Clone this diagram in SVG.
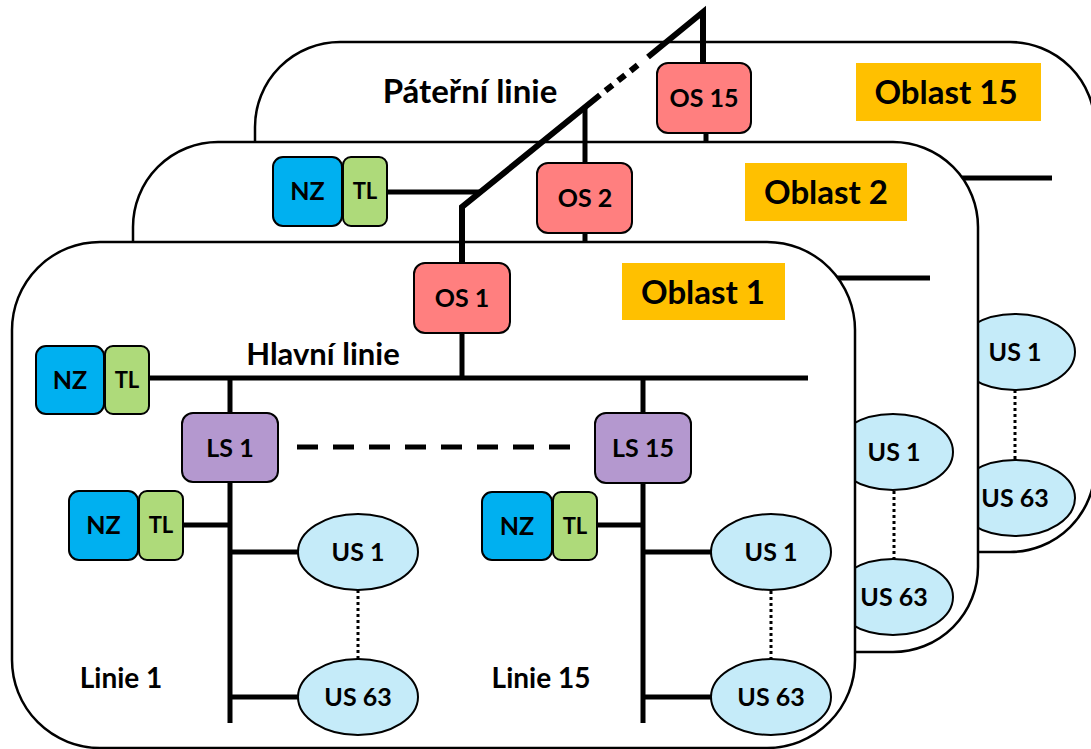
<svg xmlns="http://www.w3.org/2000/svg" width="1091" height="749" viewBox="0 0 1091 749">
<style>
.panel{fill:#fff;stroke:#000;stroke-width:2.5}
.bus{stroke:#000;stroke-width:5;fill:none}
.bb{stroke:#000;stroke-width:6;fill:none;stroke-linejoin:miter}
.dot{stroke:#000;stroke-width:3;stroke-dasharray:3 3;fill:none}
.dash{stroke:#000;stroke-width:5;stroke-dasharray:21 15;fill:none}
.box{stroke:#000;stroke-width:2}
.os{fill:#FF7F7F}
.ls{fill:#B498CF}
.nz{fill:#00B0F0}
.tl{fill:#AEDA7A}
.us{fill:#C5EBF9;stroke:#000;stroke-width:2}
.lab{fill:#FFC000}
text{font-family:Lato,"Liberation Sans",sans-serif;font-weight:bold;fill:#000;text-anchor:middle}
.t25{font-size:25px}
.t22{font-size:22px}
.t28{font-size:28px}
.t31{font-size:31px}
.t33{font-size:33px}
</style>

<!-- Back panel: Oblast 15 -->
<rect id="panel-oblast15" class="panel" x="255" y="42" width="840" height="510" rx="85"/>
<g id="conn-back">
<line class="bus" x1="706" y1="133" x2="706" y2="178"/>
<line class="bus" x1="706" y1="178" x2="1052" y2="178"/>
<line class="bus" x1="960" y1="178" x2="960" y2="500"/>
<line class="dot" x1="1015" y1="390" x2="1015" y2="460"/>
</g>
<g id="back-us1"><ellipse class="us" cx="1015" cy="352" rx="60" ry="38"/><text class="t25" x="1015" y="361">US 1</text></g>
<g id="back-us63"><ellipse class="us" cx="1015" cy="498" rx="60" ry="38"/><text class="t25" x="1015" y="507">US 63</text></g>
<g id="oblast15"><rect class="lab" x="856" y="63" width="185" height="58"/><text class="t33" x="946" y="104">Oblast 15</text></g>

<!-- Middle panel: Oblast 2 -->
<rect id="panel-oblast2" class="panel" x="133" y="142" width="845" height="510" rx="85"/>
<g id="conn-middle">
<line class="bus" x1="585" y1="233" x2="585" y2="278"/>
<line class="bus" x1="585" y1="278" x2="930" y2="278"/>
<line class="bus" x1="387" y1="192" x2="481" y2="192"/>
<line class="dot" x1="894" y1="491" x2="894" y2="559"/>
</g>
<g id="mid-us1"><ellipse class="us" cx="893" cy="452" rx="60" ry="38"/><text class="t25" x="894" y="461">US 1</text></g>
<g id="mid-us63"><ellipse class="us" cx="893" cy="597" rx="60" ry="38"/><text class="t25" x="894" y="606">US 63</text></g>
<g id="oblast2"><rect class="lab" x="745" y="163" width="162" height="58"/><text class="t33" x="826" y="204">Oblast 2</text></g>
<g id="mid-nz"><rect class="box nz" x="273" y="157" width="69" height="69" rx="10"/><text class="t25" x="307.5" y="200">NZ</text></g>
<g id="mid-tl"><rect class="box tl" x="343" y="157" width="44" height="69" rx="8"/><text class="t22" x="365" y="199">TL</text></g>

<!-- Front panel: Oblast 1 -->
<rect id="panel-oblast1" class="panel" x="12" y="242" width="843" height="506" rx="88"/>
<g id="conn-front">
<line class="bus" x1="462" y1="333" x2="462" y2="378"/>
<line class="bus" x1="149" y1="378" x2="808" y2="378"/>
<line class="bus" x1="230" y1="378" x2="230" y2="413"/>
<line class="bus" x1="643" y1="378" x2="643" y2="413"/>
<line class="dash" x1="297" y1="447" x2="580" y2="447"/>
<line class="bus" x1="230" y1="482" x2="230" y2="723"/>
<line class="bus" x1="183" y1="525" x2="230" y2="525"/>
<line class="bus" x1="230" y1="552" x2="298" y2="552"/>
<line class="bus" x1="230" y1="697" x2="298" y2="697"/>
<line class="dot" x1="358" y1="590" x2="358" y2="659"/>
<line class="bus" x1="643" y1="483" x2="643" y2="723"/>
<line class="bus" x1="597" y1="525" x2="643" y2="525"/>
<line class="bus" x1="643" y1="552" x2="711" y2="552"/>
<line class="bus" x1="643" y1="697" x2="711" y2="697"/>
<line class="dot" x1="771" y1="591" x2="771" y2="659"/>
</g>
<g id="oblast1"><rect class="lab" x="622" y="263" width="163" height="57"/><text class="t33" x="703" y="304">Oblast 1</text></g>
<g id="os1"><rect class="box os" x="414" y="263" width="96" height="70" rx="11"/><text class="t25" x="462" y="307">OS 1</text></g>
<g id="front-nz"><rect class="box nz" x="36" y="346" width="68" height="68" rx="10"/><text class="t25" x="70" y="389">NZ</text></g>
<g id="front-tl"><rect class="box tl" x="105" y="346" width="44" height="68" rx="8"/><text class="t22" x="127" y="388">TL</text></g>
<g id="ls1"><rect class="box ls" x="182" y="413" width="96" height="69" rx="11"/><text class="t25" x="230" y="457">LS 1</text></g>
<g id="ls15"><rect class="box ls" x="595" y="413" width="96" height="70" rx="11"/><text class="t25" x="643" y="457">LS 15</text></g>
<g id="l1-nz"><rect class="box nz" x="69" y="491" width="69" height="69" rx="10"/><text class="t25" x="103.5" y="534">NZ</text></g>
<g id="l1-tl"><rect class="box tl" x="139" y="491" width="44" height="69" rx="8"/><text class="t22" x="161" y="533">TL</text></g>
<g id="l15-nz"><rect class="box nz" x="482" y="492" width="70" height="68" rx="10"/><text class="t25" x="517" y="535">NZ</text></g>
<g id="l15-tl"><rect class="box tl" x="553" y="492" width="44" height="68" rx="8"/><text class="t22" x="575" y="534">TL</text></g>
<g id="l1-us1"><ellipse class="us" cx="358" cy="552" rx="60" ry="38"/><text class="t25" x="358" y="561">US 1</text></g>
<g id="l1-us63"><ellipse class="us" cx="358" cy="697" rx="60" ry="38"/><text class="t25" x="358" y="706">US 63</text></g>
<g id="l15-us1"><ellipse class="us" cx="771" cy="552" rx="60" ry="38"/><text class="t25" x="771" y="561">US 1</text></g>
<g id="l15-us63"><ellipse class="us" cx="771" cy="697" rx="60" ry="38"/><text class="t25" x="771" y="706">US 63</text></g>

<g id="labels">
<text class="t33" x="470" y="103">Páteřní linie</text>
<text class="t31" x="323" y="365">Hlavní linie</text>
<text class="t28" x="121" y="688">Linie 1</text>
<text class="t28" x="541" y="688">Linie 15</text>
</g>

<!-- Backbone (Páteřní linie) -->
<g id="conn-backbone">
<polyline class="bb" points="462,263 462,207 600,95"/>
<line class="bb" x1="600" y1="95" x2="648" y2="57" stroke-dasharray="0 7 9 7 9 7 9 13"/>
<polyline class="bb" points="648,57 703,12 703,63"/>
<line class="bus" x1="585" y1="108" x2="585" y2="163"/>
</g>
<g id="os2"><rect class="box os" x="537" y="163" width="95" height="70" rx="11"/><text class="t25" x="585" y="207">OS 2</text></g>
<g id="os15"><rect class="box os" x="657" y="63" width="94" height="70" rx="11"/><text class="t25" x="704" y="107">OS 15</text></g>
</svg>
